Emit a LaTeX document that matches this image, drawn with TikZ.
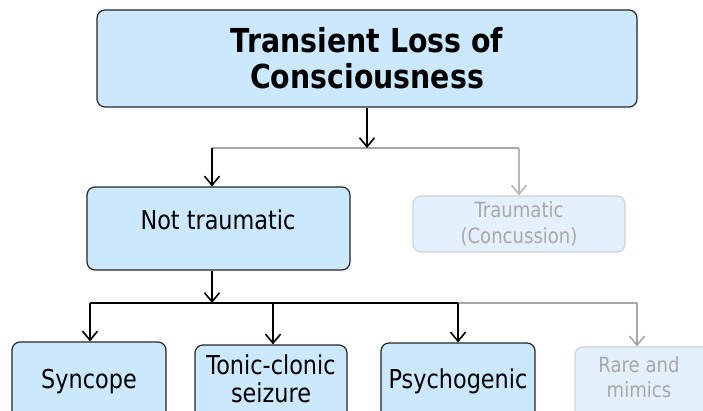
\documentclass[tikz,border=0pt]{standalone}
\usepackage{fontspec}
\setmainfont{DejaVu Sans}[FakeStretch=0.86]
\usetikzlibrary{arrows.meta}
\definecolor{boxblue}{HTML}{CCE8FC}
\definecolor{fadefill}{HTML}{E4F1FC}
\definecolor{fadeborder}{HTML}{CBD2DA}
\definecolor{fadetext}{HTML}{A8A8A8}
\definecolor{gline}{HTML}{A6A6A6}
\definecolor{glight}{HTML}{B8B8B8}
\begin{document}
\begin{tikzpicture}[x=1pt,y=-1pt,
  box/.style={draw=black!85, line width=1.2pt, fill=boxblue, rounded corners=8pt, inner sep=0pt},
  fadebox/.style={draw=fadeborder, line width=1.2pt, fill=fadefill, rounded corners=8pt, inner sep=0pt, text=fadetext},
  conn/.style={line width=2pt, draw=black},
  gconn/.style={line width=2pt, draw=gline},
  tip/.style={-{Straight Barb[length=9pt,width=15pt,line width=1.6pt]}},
  bigtxt/.style={font=\fontsize{26}{28}\selectfont, inner sep=0pt},
  smalltxt/.style={font=\fontsize{21}{25}\selectfont, inner sep=0pt, text=fadetext}
]
\useasboundingbox (0,0) rectangle (703,411);
\clip (0,0) rectangle (703,411);

% boxes
\node[box, minimum width=540pt, minimum height=97pt, align=center,
      font=\bfseries\fontsize{33}{36}\selectfont] (top) at (367,58.5) {Transient Loss of\\Consciousness};
\node[box, minimum width=263pt, minimum height=83pt] (nt) at (218.5,228.5) {};
\node[bigtxt, anchor=base] (ntt) at (218,230) {Not traumatic};
\node[fadebox, minimum width=212pt, minimum height=56pt, align=center,
      font=\fontsize{21}{26}\selectfont] (tr) at (519,224) {Traumatic\\(Concussion)};

\node[box, minimum width=154pt, minimum height=88pt] (syn) at (89,386) {};
\node[box, minimum width=152pt, minimum height=85pt] (ton) at (271,387.5) {};
\node[box, minimum width=154pt, minimum height=87pt] (psy) at (458,386.5) {};
\node[fadebox, minimum width=137pt, minimum height=83pt] (rar) at (643.5,388.5) {};

\node[bigtxt, anchor=base] (synt) at (89,388) {Syncope};
\node[bigtxt, anchor=north, align=center] (tont) at (271,355) {Tonic-clonic\\seizure};
\node[bigtxt, anchor=base] (psyt) at (458,388) {Psychogenic};
\node[smalltxt, anchor=north, align=center] (rart) at (639,356) {Rare and\\mimics};

% connectors, first level
\coordinate (j1) at (367,148);
\coordinate (j1l) at (212,148);
\coordinate (j1r) at (519,148);
\draw[gconn] (j1l) -- (j1r);
\draw[conn, tip] (top.south) -- (j1);
\draw[conn, tip] (j1l) -- (j1l |- nt.north);
\draw[line width=2pt, draw=glight, tip] (j1r) -- (tr.north);

% connectors, second level
\coordinate (j2) at (212,303);
\coordinate (s1) at (90,303);
\coordinate (s2) at (273,303);
\coordinate (s3) at (458,303);
\coordinate (s4) at (637,303);
\draw[conn, tip] (nt.south -| j2) -- (j2);
\draw[gconn] (s3) -- (s4);
\draw[conn] (s1) -- (s3);
\draw[conn, tip] (s1) -- (s1 |- syn.north);
\draw[conn, tip] (s2) -- (s2 |- ton.north);
\draw[conn, tip] (s3) -- (s3 |- psy.north);
\draw[gconn, tip] (s4) -- (s4 |- rar.north);
\end{tikzpicture}
\end{document}
